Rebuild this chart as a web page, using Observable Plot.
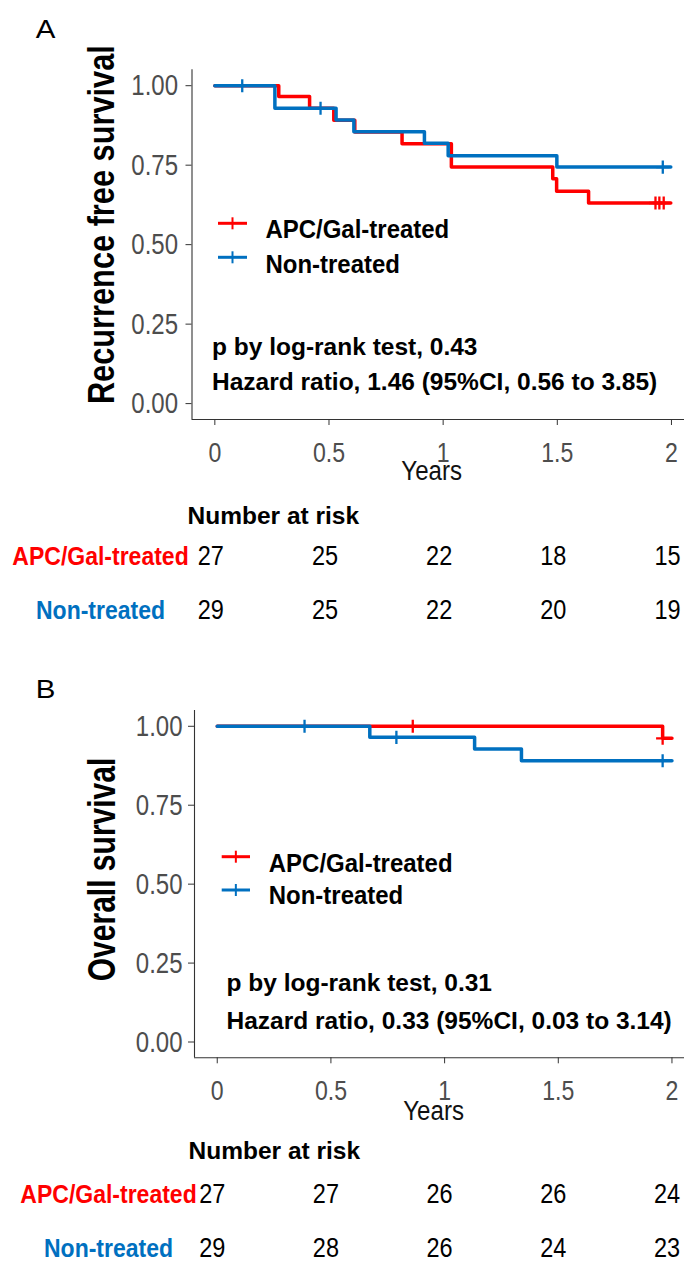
<!DOCTYPE html>
<html><head><meta charset="utf-8">
<script src="https://cdn.jsdelivr.net/npm/d3@7"></script>
<script src="https://cdn.jsdelivr.net/npm/@observablehq/plot@0.6"></script>
<style>
html,body{margin:0;padding:0;background:#fff;overflow:hidden}
#root{position:relative;width:684px;height:1266px;overflow:hidden;background:#fff}
#root svg{position:absolute;left:0;overflow:visible;max-width:none !important}
</style></head>
<body><div id="root"></div>
<script>
// ---------- data ----------
const groups = ["APC/Gal-treated", "Non-treated"];
const colors = ["#FF0000", "#0070C0"];
const yTicks = [0, 0.25, 0.5, 0.75, 1];
const xTicks = [0, 0.5, 1, 1.5, 2];
const riskTimes = [0, 0.5, 1, 1.5, 2];

// Panel A: recurrence free survival
const rfsTreatedTime = [0, 0.28, 0.415, 0.521, 0.613, 0.82, 1.036, 1.48, 1.497, 1.637, 1.997];
const rfsTreatedSurv = [1, 0.966, 0.929, 0.891, 0.854, 0.817, 0.744, 0.707, 0.668, 0.631, 0.631];
const rfsTreatedCensorTime = [1.93, 1.947, 1.966];
const rfsTreatedCensorSurv = [0.631, 0.631, 0.631];
const rfsNonTime = [0, 0.263, 0.531, 0.609, 0.918, 1.022, 1.498, 1.997];
const rfsNonSurv = [1, 0.929, 0.892, 0.855, 0.819, 0.780, 0.744, 0.744];
const rfsNonCensorTime = [0.12, 0.463, 1.962];
const rfsNonCensorSurv = [1, 0.929, 0.744];
const rfsRiskTreated = [27, 25, 22, 18, 15];
const rfsRiskNon = [29, 25, 22, 20, 19];
const rfsStats = ["p by log-rank test, 0.43", "Hazard ratio, 1.46 (95%CI, 0.56 to 3.85)"];

// Panel B: overall survival
const osTreatedTime = [0, 1.959, 2.0];
const osTreatedSurv = [1, 0.962, 0.962];
const osTreatedCensorTime = [0.86, 1.959];
const osTreatedCensorSurv = [1, 0.962];
const osNonTime = [0, 0.671, 1.132, 1.338, 2.0];
const osNonSurv = [1, 0.965, 0.928, 0.891, 0.891];
const osNonCensorTime = [0.384, 0.788, 1.959];
const osNonCensorSurv = [1, 0.965, 0.891];
const osRiskTreated = [27, 27, 26, 26, 24];
const osRiskNon = [29, 28, 26, 24, 23];
const osStats = ["p by log-rank test, 0.31", "Hazard ratio, 0.33 (95%CI, 0.03 to 3.14)"];

// ---------- drawing ----------
const FB = "'Liberation Sans',Arial,sans-serif";
const W = 700;
const ST = {fontFamily: FB, background: "transparent", overflow: "visible", maxWidth: "none"};

// horizontally rescale texts of marks tagged with className "sxNN" (NN = percent)
function condense(svg) {
  svg.querySelectorAll("g[class]").forEach(g => {
    const m = /(?:^|\s)sx(\d+)/.exec(g.getAttribute("class"));
    if (!m) return;
    const s = +m[1] / 100;
    g.querySelectorAll("text").forEach(t => {
      let tr = t.getAttribute("transform") || "";
      const x = t.getAttribute("x");
      if (x != null && !isNaN(+x)) { tr += ` translate(${+x},0)`; t.removeAttribute("x"); }
      t.setAttribute("transform", `${tr} scale(${s},1)`);
    });
  });
  return svg;
}

function legendKeys(o) {
  return (index, scales, values, dim) => {
    const g = d3.create("svg:g");
    groups.forEach((grp, i) => {
      const y = dim.marginTop + o.keyDy + i * o.keyGap;
      const x0 = dim.marginLeft + o.keyDx0, x1 = dim.marginLeft + o.keyDx1;
      g.append("line").attr("x1", x0).attr("x2", x1).attr("y1", y).attr("y2", y)
        .attr("stroke", colors[i]).attr("stroke-width", 3);
      g.append("line").attr("x1", (x0 + x1) / 2).attr("x2", (x0 + x1) / 2).attr("y1", y - 6).attr("y2", y + 6)
        .attr("stroke", colors[i]).attr("stroke-width", 2);
    });
    return g.node();
  };
}

function chart(o) {
  const rows = [], cens = [];
  o.series.forEach((s, gi) => s.time.forEach((t, i) => rows.push({group: groups[gi], t, s: s.surv[i]})));
  o.series.forEach((s, gi) => s.cTime.forEach((t, i) => cens.push({group: groups[gi], t, s: s.cSurv[i]})));
  const marks = [
    Plot.ruleX([-0.1], {stroke: "#333", strokeWidth: 1.1}),
    Plot.ruleY([-0.05], {stroke: "#333", strokeWidth: 1.1}),
    Plot.axisY(yTicks, {tickSize: 6, tickPadding: o.yPad, tickFormat: d3.format(".2f"), fontSize: 30, fill: "#4d4d4d", stroke: "#333", label: null, className: "sx80"}),
    Plot.axisX(xTicks, {tickSize: 6, tickPadding: 16, tickFormat: d3.format("~g"), fontSize: 28.5, fill: "#4d4d4d", stroke: "#333", label: null, className: "sx81"}),
    Plot.text(["Years"], {frameAnchor: "bottom", dx: o.yearsDx, dy: o.yearsDy, fontSize: 28, fill: "#111", textAnchor: "middle", lineAnchor: "middle", className: "sx86"}),
    Plot.text([o.ylabel], {frameAnchor: "left", rotate: -90, dx: o.ylabDx, dy: o.ylabDy, fontSize: o.ylabSize, fontWeight: "bold", fill: "#000", textAnchor: "middle", lineAnchor: "middle", className: o.ylabSx}),
    Plot.text([o.letter], {frameAnchor: "top-left", dx: o.letDx, dy: o.letDy, fontSize: 25, fill: "#000", textAnchor: "middle", lineAnchor: "middle", className: "sx118"}),
    Plot.line(rows, {x: "t", y: "s", z: "group", stroke: "group", curve: "step-after", strokeWidth: 3.5}),
    Plot.dot(cens, {x: "t", y: "s", stroke: "group", symbol: "plus", r: 4.3, strokeWidth: 2.3}),
    legendKeys(o)
  ];
  groups.forEach((grp, i) => marks.push(
    Plot.text([grp], {frameAnchor: "top-left", dx: o.legTextDx, dy: o.legTextDy + i * o.legTextGap, textAnchor: "start", lineAnchor: "middle", fontSize: 25.5, fontWeight: "bold", fill: "#000", className: "sx94"})
  ));
  o.stats.forEach((s, i) => marks.push(
    Plot.text([s], {frameAnchor: "top-left", dx: o.statDx, dy: o.statDy[i], textAnchor: "start", lineAnchor: "middle", fontSize: 24.5, fontWeight: "bold", fill: "#000"})
  ));
  return condense(Plot.plot({
    width: W, height: o.height,
    marginLeft: o.left, marginRight: W - o.right, marginTop: o.top, marginBottom: o.height - o.bottom,
    x: {domain: [-0.1, 2.1]},
    y: {domain: [-0.05, 1.05]},
    color: {domain: groups, range: colors},
    style: ST,
    marks
  }));
}

function riskTable(o) {
  const rows = [];
  o.risk.forEach((arr, gi) => arr.forEach((n, i) => rows.push({group: groups[gi], t: riskTimes[i], n})));
  return condense(Plot.plot({
    width: W, height: o.height,
    marginLeft: o.left, marginRight: W - o.right, marginTop: 0, marginBottom: 0,
    x: {domain: [-0.1, 2.1], axis: null},
    y: {type: "point", domain: groups, range: o.rowY, padding: 0, axis: null},
    color: {domain: groups, range: colors},
    style: ST,
    marks: [
      Plot.text(["Number at risk"], {frameAnchor: "top-left", dx: o.headDx, dy: o.headDy, textAnchor: "start", lineAnchor: "middle", fontWeight: "bold", fontSize: 24.5, fill: "#000"}),
      Plot.text(groups, {y: d => d, fill: d => d, frameAnchor: "left", dx: o.labDx, textAnchor: "middle", lineAnchor: "middle", fontWeight: "bold", fontSize: 25, className: "sx92"}),
      Plot.text(rows, {x: "t", y: "group", text: "n", dx: o.numDx, textAnchor: "middle", lineAnchor: "middle", fontSize: 28, fill: "#000", className: "sx84"})
    ]
  }));
}

const root = document.getElementById("root");
function place(svg, top) { svg.style.top = top + "px"; svg.style.maxWidth = "none"; root.appendChild(svg); }

place(chart({
  height: 500, left: 191.5, right: 693.8, top: 69.3, bottom: 419,
  yPad: 8, yearsDx: -11.5, yearsDy: 52, ylabel: "Recurrence free survival", ylabSize: 37.5, ylabSx: "sx82", ylabDx: -90, ylabDy: -20,
  letter: "A", letDx: -146.5, letDy: -40,
  keyDx0: 26.5, keyDx1: 55.5, keyDy: 154, keyGap: 34,
  legTextDx: 73.5, legTextDy: 159.7, legTextGap: 35,
  statDx: 20, statDy: [277.5, 312], stats: rfsStats,
  series: [
    {time: rfsTreatedTime, surv: rfsTreatedSurv, cTime: rfsTreatedCensorTime, cSurv: rfsTreatedCensorSurv},
    {time: rfsNonTime, surv: rfsNonSurv, cTime: rfsNonCensorTime, cSurv: rfsNonCensorSurv}
  ]
}), 0);

place(riskTable({
  height: 150, left: 191.5, right: 693.8, rowY: [66, 120], headDx: -4.5, headDy: 26, labDx: -91.5, numDx: -4,
  risk: [rfsRiskTreated, rfsRiskNon]
}), 490);

place(chart({
  height: 500, left: 194, right: 694.2, top: 70, bottom: 417.3,
  yPad: 6, yearsDx: -11, yearsDy: 53, ylabel: "Overall survival", ylabSize: 38, ylabSx: "sx79", ylabDx: -91.5, ylabDy: -14.7,
  letter: "B", letDx: -149, letDy: -21,
  keyDx0: 27.7, keyDx1: 56, keyDy: 146.7, keyGap: 33.3,
  legTextDx: 74.3, legTextDy: 153, legTextGap: 32,
  statDx: 32, statDy: [273, 311], stats: osStats,
  series: [
    {time: osTreatedTime, surv: osTreatedSurv, cTime: osTreatedCensorTime, cSurv: osTreatedCensorSurv},
    {time: osNonTime, surv: osNonSurv, cTime: osNonCensorTime, cSurv: osNonCensorSurv}
  ]
}), 640);

place(riskTable({
  height: 141, left: 194, right: 694.2, rowY: [69, 123], headDx: -6, headDy: 26, labDx: -86, numDx: -5,
  risk: [osRiskTreated, osRiskNon]
}), 1125);
</script>
</body></html>
